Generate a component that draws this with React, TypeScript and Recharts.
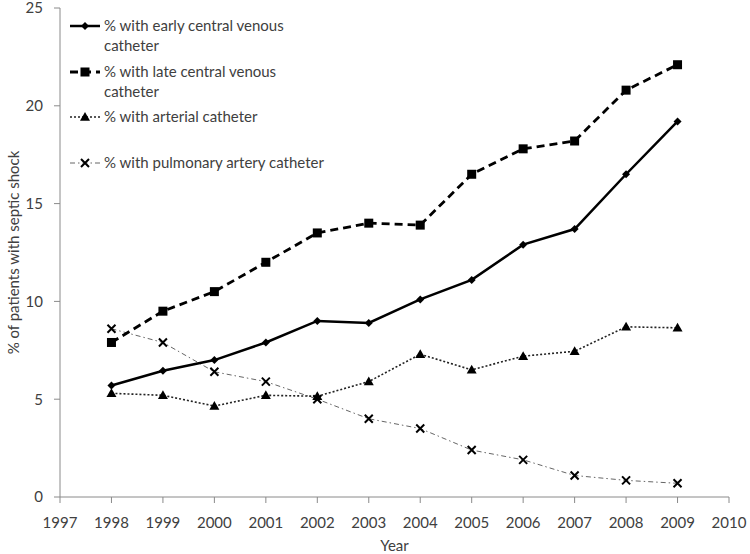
import { LineChart, Line, XAxis, YAxis, Legend } from "recharts"

const years = [1998, 1999, 2000, 2001, 2002, 2003, 2004, 2005, 2006, 2007, 2008, 2009]
const earlyCvc = [5.7, 6.45, 7.0, 7.9, 9.0, 8.9, 10.1, 11.1, 12.9, 13.7, 16.5, 19.2]
const lateCvc = [7.9, 9.5, 10.5, 12.0, 13.5, 14.0, 13.9, 16.5, 17.8, 18.2, 20.8, 22.1]
const arterial = [5.3, 5.2, 4.65, 5.2, 5.15, 5.9, 7.3, 6.5, 7.2, 7.45, 8.7, 8.65]
const pulmonary = [8.6, 7.9, 6.4, 5.9, 5.0, 4.0, 3.5, 2.4, 1.9, 1.1, 0.85, 0.7]

const xTicks = [1997, 1998, 1999, 2000, 2001, 2002, 2003, 2004, 2005, 2006, 2007, 2008, 2009, 2010]
const yTicks = [0, 5, 10, 15, 20, 25]

const legendRows = [
  { key: "early", lines: ["% with early central venous", "catheter"] },
  { key: "late", lines: ["% with late central venous", "catheter"] },
  { key: "arterial", lines: ["% with arterial catheter"] },
  { key: "pulmonary", lines: ["% with pulmonary artery catheter"] },
]

const data = years.map((year, i) => ({
  year,
  early: earlyCvc[i],
  late: lateCvc[i],
  arterial: arterial[i],
  pulmonary: pulmonary[i],
}))

const FONT = "Lato, 'Open Sans', sans-serif"
const TEXT = "#404040"
const AXIS = "#8a8a8a"

const Diamond = ({ cx, cy, r = 4 }: any) => (
  <path d={`M${cx},${cy - r}L${cx + r},${cy}L${cx},${cy + r}L${cx - r},${cy}Z`} fill="#000" />
)
const Square = ({ cx, cy, r = 4.5 }: any) => (
  <rect x={cx - r} y={cy - r} width={r * 2} height={r * 2} fill="#000" />
)
const Triangle = ({ cx, cy, r = 5 }: any) => (
  <path d={`M${cx},${cy - r}L${cx + r},${cy + r * 0.75}L${cx - r},${cy + r * 0.75}Z`} fill="#000" />
)
const Cross = ({ cx, cy, r = 4 }: any) => (
  <path d={`M${cx - r},${cy - r}L${cx + r},${cy + r}M${cx + r},${cy - r}L${cx - r},${cy + r}`} stroke="#000" strokeWidth={2} fill="none" />
)

const styles: any = {
  early: { stroke: "#000", width: 2.5, dash: undefined, Marker: Diamond },
  late: { stroke: "#000", width: 2.8, dash: "8 5", Marker: Square },
  arterial: { stroke: "#222", width: 1.6, dash: "2 2", Marker: Triangle },
  pulmonary: { stroke: "#666", width: 1, dash: "5 3 1.5 3", Marker: Cross },
}

function LegendBox() {
  const rowY = [26, 72, 117, 163]
  return (
    <svg width={300} height={180} style={{ display: "block" }}>
      {legendRows.map((row, i) => {
        const s = styles[row.key]
        const y = rowY[i]
        const M = s.Marker
        return (
          <g key={row.key}>
            <line x1={2} x2={32} y1={y} y2={y} stroke={s.stroke} strokeWidth={s.width} strokeDasharray={s.dash} />
            <M cx={17} cy={y} />
            {row.lines.map((t: string, j: number) => (
              <text key={j} x={36} y={y + j * 19.5} dy="0.35em" fontFamily={FONT} fontSize={15} fill={TEXT}>
                {t}
              </text>
            ))}
          </g>
        )
      })}
    </svg>
  )
}

const YLabel = ({ viewBox }: any) => {
  const cy = viewBox.y + viewBox.height / 2
  return (
    <text x={13} y={cy} transform={`rotate(-90, 13, ${cy})`} textAnchor="middle" dominantBaseline="central" fontFamily={FONT} fontSize={15} fill={TEXT}>
      % of patients with septic shock
    </text>
  )
}

export default function App() {
  return (
    <div style={{ position: "absolute", left: 0, top: 0, background: "#fff" }}>
      <LineChart width={750} height={554} data={data} margin={{ top: 8, right: 21, bottom: 0, left: 0 }}>
        <XAxis
          dataKey="year"
          type="number"
          domain={[1997, 2010]}
          ticks={xTicks}
          interval={0}
          stroke={AXIS}
          tickSize={6}
          tickMargin={14}
          height={57}
          tick={{ fill: TEXT, fontSize: 15, fontFamily: FONT }}
          label={{ value: "Year", position: "insideBottom", offset: 3, fill: TEXT, fontSize: 15, fontFamily: FONT }}
        />
        <YAxis
          domain={[0, 25]}
          ticks={yTicks}
          interval={0}
          stroke={AXIS}
          tickSize={6}
          tickMargin={11}
          width={60}
          tick={{ fill: TEXT, fontSize: 15, fontFamily: FONT }}
          label={<YLabel />}
        />
        <Legend
          layout="vertical"
          align="center"
          verticalAlign="middle"
          wrapperStyle={{ top: 0, left: 68, width: 300, height: 180 }}
          content={() => <LegendBox />}
        />
        {(["pulmonary", "arterial", "early", "late"] as const).map((k) => {
          const s = styles[k]
          const M = s.Marker
          return (
            <Line
              key={k}
              dataKey={k}
              type="linear"
              stroke={s.stroke}
              strokeWidth={s.width}
              strokeDasharray={s.dash}
              isAnimationActive={false}
              dot={(p: any) => <M key={`${k}-${p.index}`} cx={p.cx} cy={p.cy} />}
              activeDot={false}
            />
          )
        })}
      </LineChart>
    </div>
  )
}
